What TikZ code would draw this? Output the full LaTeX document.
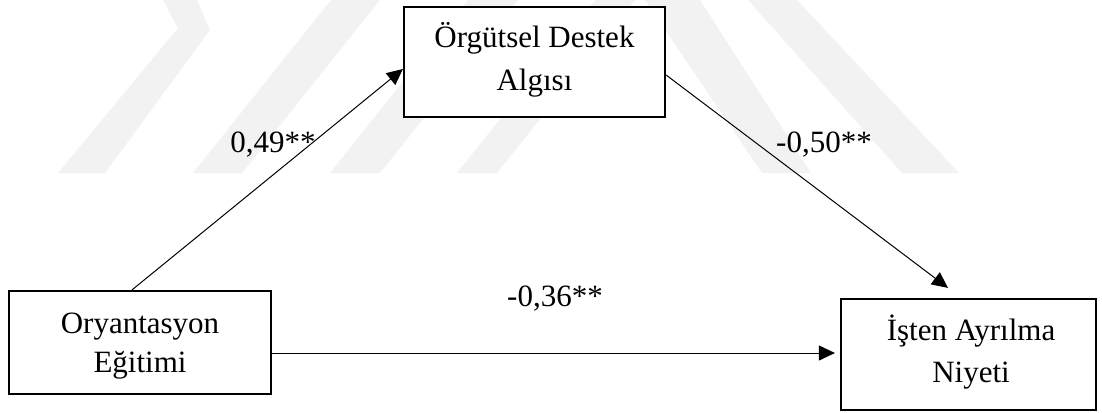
\documentclass[tikz,border=0pt]{standalone}
\usepackage{fontspec}
\setmainfont{Liberation Serif}
\usetikzlibrary{arrows.meta,calc}
\begin{document}
\begin{tikzpicture}[x=1pt,y=-1pt,
  var/.style={draw, line width=2.2pt, fill=white, inner sep=0pt},
  txt/.style={anchor=base, inner sep=0pt, font=\fontsize{31}{36}\selectfont},
  link/.style={line width=1pt, -{Triangle[length=16pt,width=15pt]}},
  wm/.style={fill=black!5, draw=none}]
\useasboundingbox (0,0) rectangle (1102,412);

% faint background emblem
\fill[wm] (58,173) -- (105,173) -- (210,30) -- (197,0) -- (163,0) -- (178,28) -- cycle;
\fill[wm] (193,173) -- (242,173) -- (380,0) -- (331,0) -- cycle;
\fill[wm] (330,173) -- (380,173) -- (518,0) -- (468,0) -- cycle;
\fill[wm] (457,173) -- (497,173) -- (635,0) -- (595,0) -- cycle;
\fill[wm] (645,0) -- (700,0) -- (811,173) -- (762,173) -- cycle;
\fill[wm] (748,0) -- (797,0) -- (959,173) -- (902,173) -- cycle;

% variable boxes
\node[var, minimum width=261pt, minimum height=110pt] (oda) at (534.5,62) {};
\node[var, minimum width=262pt, minimum height=103pt] (oe) at (140,342.5) {};
\node[var, minimum width=255pt, minimum height=111pt] (ian) at (968.5,354.5) {};

% box labels, two lines each
\node[txt] (oda1) at ($(oda.north)+(0,42.1)$) {Örgütsel Destek};
\node[txt] (oda2) at ($(oda.north)+(0,84.1)$) {Algısı};
\node[txt] (oe1) at ($(oe.north)+(0,43.1)$) {Oryantasyon};
\node[txt] (oe2) at ($(oe.north)+(0,82.6)$) {Eğitimi};
\node[txt] (ian1) at ($(ian.north)+(2.5,42.1)$) {İşten Ayrılma};
\node[txt] (ian2) at ($(ian.north)+(2.5,84.1)$) {Niyeti};

% paths
\draw[link] ($(oe.north)+(-8,0)$) -- ($(oda.west)+(0,7)$);
\draw[link] ($(oda.east)+(0,13)$) -- ($(ian.north)+(-20.5,-10)$);
\draw[link] ($(oe.east)+(0,10.5)$) -- ($(ian.west)+(-5,-1.5)$);

% coefficients
\node[txt] (c1) at (273,152) {0,49**};
\node[txt] (c2) at (824,152) {-0,50**};
\node[txt] (c3) at (555,306) {-0,36**};
\end{tikzpicture}
\end{document}
